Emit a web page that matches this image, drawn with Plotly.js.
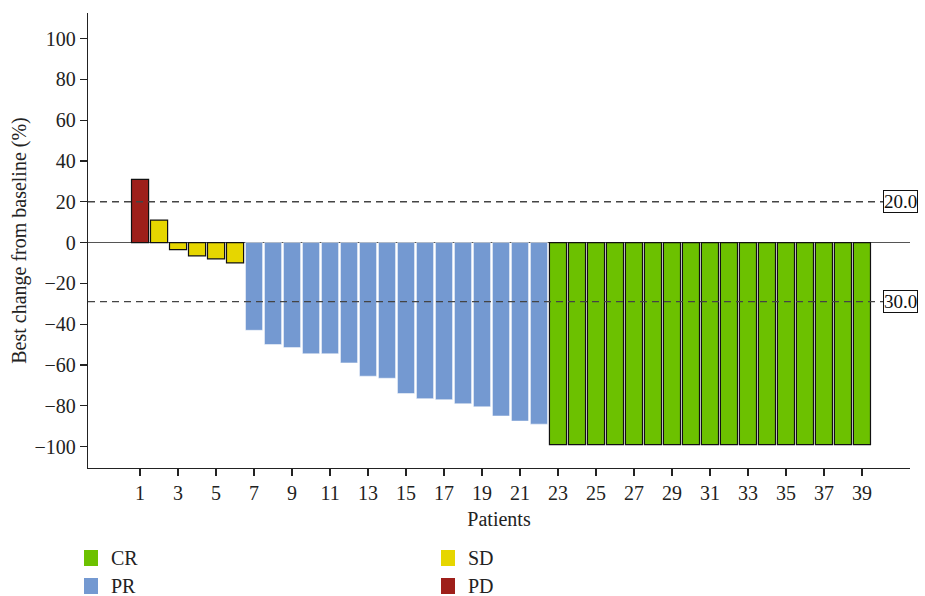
<!DOCTYPE html>
<html>
<head>
<meta charset="utf-8">
<script src="https://cdn.plot.ly/plotly-3.0.1.min.js"></script>
<style>html,body{margin:0;padding:0;background:#fff;}#chart{width:925px;height:596px;}</style>
</head>
<body>
<div id="chart"></div>
<script>
// Patients and best change from baseline (%)
const pdPatients = [1];
const pdValues = [31];
const sdPatients = [2, 3, 4, 5, 6];
const sdValues = [11, -3.5, -6.5, -8, -10];
const prPatients = [7, 8, 9, 10, 11, 12, 13, 14, 15, 16, 17, 18, 19, 20, 21, 22];
const prValues = [-43, -50, -51.5, -54.5, -54.5, -59, -65.5, -66.5, -74, -76.5, -77, -79, -80.5, -85, -87.5, -89];
const crPatients = [23, 24, 25, 26, 27, 28, 29, 30, 31, 32, 33, 34, 35, 36, 37, 38, 39];
const crValues = [-99, -99, -99, -99, -99, -99, -99, -99, -99, -99, -99, -99, -99, -99, -99, -99, -99];
const xTickVals = [1, 3, 5, 7, 9, 11, 13, 15, 17, 19, 21, 23, 25, 27, 29, 31, 33, 35, 37, 39];
const yTickVals = [-100, -80, -60, -40, -20, 0, 20, 40, 60, 80, 100];
const thresholdUpper = 20;
const thresholdLower = -29;
const thresholdUpperLabel = '20.0';
const thresholdLowerLabel = '30.0';
const legendNames = ['CR', 'PR', 'SD', 'PD'];

const colors = {CR: '#6cc100', PR: '#7499d1', SD: '#e6d600', PD: '#9e1f1a'};
const serif = 'Liberation Serif';

const traces = [
  {type: 'bar', name: 'PD', x: pdPatients, y: pdValues, marker: {color: colors.PD, line: {color: '#111', width: 1.2}}, showlegend: false},
  {type: 'bar', name: 'SD', x: sdPatients, y: sdValues, marker: {color: colors.SD, line: {color: '#111', width: 1.2}}, showlegend: false},
  {type: 'bar', name: 'PR', x: prPatients, y: prValues, marker: {color: colors.PR, line: {color: '#fff', width: 0.5}}, showlegend: false},
  {type: 'bar', name: 'CR', x: crPatients, y: crValues, marker: {color: colors.CR, line: {color: '#111', width: 1.2}}, showlegend: false}
];

const W = 925, H = 596;
const m = {l: 88, r: 15, t: 13, b: 128};
const pw = W - m.l - m.r, ph = H - m.t - m.b;
const px = x => (x - m.l) / pw;          // pixel -> paper x
const py = y => 1 - (y - m.t) / ph;      // pixel -> paper y

const shapes = [
  {type: 'line', xref: 'paper', yref: 'y', x0: 0, x1: px(884), y0: thresholdUpper, y1: thresholdUpper, line: {color: '#444', width: 1.3, dash: '7px,5px'}},
  {type: 'line', xref: 'paper', yref: 'y', x0: 0, x1: px(884), y0: thresholdLower, y1: thresholdLower, line: {color: '#444', width: 1.3, dash: '7px,5px'}}
];
const annotations = [
  {xref: 'paper', yref: 'y', x: px(883), xanchor: 'left', y: thresholdUpper, text: thresholdUpperLabel, showarrow: false, bordercolor: '#111', borderwidth: 1, borderpad: 0, bgcolor: '#fff', font: {family: serif, size: 19, color: '#111'}},
  {xref: 'paper', yref: 'y', x: px(883), xanchor: 'left', y: thresholdLower, text: thresholdLowerLabel, showarrow: false, bordercolor: '#111', borderwidth: 1, borderpad: 0, bgcolor: '#fff', font: {family: serif, size: 19, color: '#111'}}
];

// legend laid out as in the reference (2 x 2)
const legendPos = {CR: [84, 550], PR: [84, 578], SD: [441, 550], PD: [441, 578]};
legendNames.forEach(n => {
  const [lx, ly] = legendPos[n];
  shapes.push({type: 'rect', xref: 'paper', yref: 'paper', x0: px(lx), x1: px(lx + 14), y0: py(ly), y1: py(ly + 16), fillcolor: colors[n], line: {width: 0}});
  annotations.push({xref: 'paper', yref: 'paper', x: px(lx + 25), y: py(ly + 8), xanchor: 'left', yanchor: 'middle', text: n, showarrow: false, font: {family: serif, size: 20, color: '#222'}});
});

const layout = {
  width: W, height: H,
  margin: m,
  paper_bgcolor: '#fff', plot_bgcolor: '#fff',
  barmode: 'overlay', bargap: 0.1,
  showlegend: false,
  font: {family: serif, size: 20, color: '#222'},
  xaxis: {
    range: [-1.74, 41.53], tickvals: xTickVals, ticks: 'outside', ticklen: 7, tickcolor: '#222', tickwidth: 1.2,
    showline: true, linecolor: '#222', linewidth: 1.3, showgrid: false, zeroline: false,
    tickfont: {family: serif, size: 20, color: '#222'},
    title: {text: 'Patients', font: {family: serif, size: 20, color: '#222'}, standoff: 8}
  },
  yaxis: {
    range: [-110.5, 112.5], tickvals: yTickVals, ticks: 'outside', ticklen: 7, tickcolor: '#222', tickwidth: 1.2,
    showline: true, linecolor: '#222', linewidth: 1.3, showgrid: false,
    zeroline: true, zerolinecolor: '#555', zerolinewidth: 1.5,
    tickfont: {family: serif, size: 20, color: '#222'},
    title: {text: 'Best change from baseline (%)', font: {family: serif, size: 20, color: '#222'}, standoff: 2}
  },
  shapes: shapes,
  annotations: annotations
};

Plotly.newPlot('chart', traces, layout, {displayModeBar: false, staticPlot: true});
</script>
</body>
</html>
